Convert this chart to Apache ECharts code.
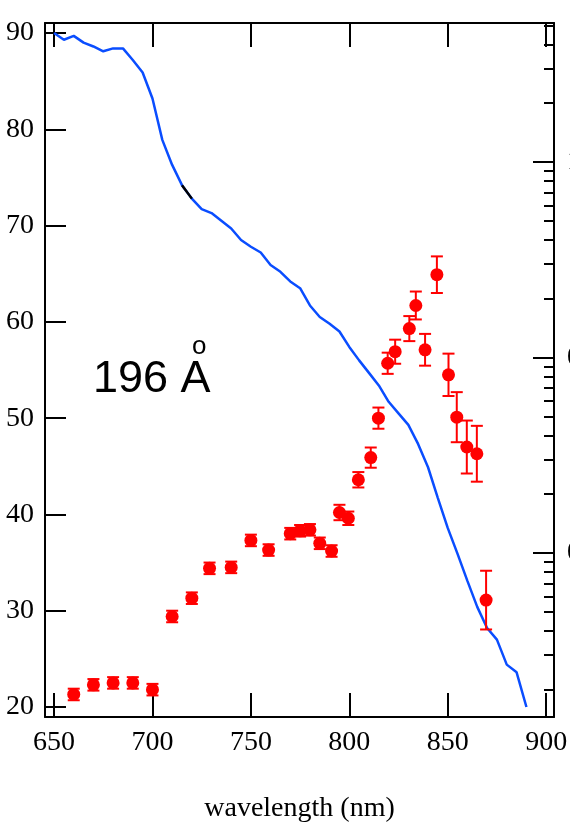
<!DOCTYPE html>
<html>
<head>
<meta charset="utf-8">
<style>
  html, body { margin: 0; padding: 0; background: #fff; }
  #chart { width: 570px; height: 831px; }
</style>
<script src="https://cdn.jsdelivr.net/npm/echarts@6/dist/echarts.min.js"></script>
</head>
<body>
<div id="chart"></div>
<script>
// blue curve (5 nm steps)
var curveX = [650, 655, 660, 665, 670, 675, 680, 685, 690, 695, 700, 705, 710, 715, 720, 725, 730, 735, 740, 745,
  750, 755, 760, 765, 770, 775, 780, 785, 790, 795, 800, 805, 810, 815, 820, 825, 830, 835, 840, 845,
  850, 855, 860, 865, 870, 875, 880, 885, 890];
var curveY = [90.0, 89.3, 89.7, 89.0, 88.6, 88.1, 88.4, 88.4, 87.2, 85.9, 83.2, 78.9, 76.3, 74.2, 72.8, 71.7, 71.3, 70.5, 69.7, 68.5,
  67.8, 67.2, 65.9, 65.2, 64.2, 63.5, 61.7, 60.5, 59.8, 59.0, 57.4, 56.0, 54.7, 53.4, 51.7, 50.5, 49.3, 47.3, 44.9, 41.7,
  38.6, 35.9, 33.1, 30.4, 28.2, 27.0, 24.4, 23.6, 20.0];
// short black piece of the curve
var blackX = [715, 720];
var blackY = [74.2, 72.8];

// red measured points with symmetric errors
var ptX = [660, 670, 680, 690, 700, 710, 720, 729, 740, 750, 759, 770, 775, 780, 785, 791,
  795, 799.5, 804.6, 810.9, 814.8, 819.5, 823.3, 830.5, 833.8, 838.5, 844.5, 850.4, 854.6, 859.7, 864.8, 869.5];
var ptY = [21.3, 22.3, 22.5, 22.5, 21.8, 29.4, 31.3, 34.4, 34.5, 37.3, 36.3, 38.0, 38.3, 38.4, 37.0, 36.2,
  40.2, 39.6, 43.6, 45.9, 50.0, 55.7, 56.9, 59.3, 61.7, 57.1, 64.9, 54.5, 50.1, 47.0, 46.3, 31.1];
var ptErr = [0.6, 0.6, 0.6, 0.6, 0.6, 0.6, 0.6, 0.6, 0.6, 0.6, 0.6, 0.6, 0.6, 0.6, 0.6, 0.6,
  0.8, 0.7, 0.8, 1.05, 1.1, 1.1, 1.25, 1.3, 1.45, 1.65, 1.9, 2.2, 2.6, 2.75, 2.9, 3.05];

// axes ticks
var xTicks = [650, 700, 750, 800, 850, 900];
var yTicks = [20, 30, 40, 50, 60, 70, 80, 90];
var rightDecades = [0.01, 0.1, 1];
var rightMinorMult = [2, 3, 4, 5, 6, 7, 8, 9];

var xMin = 645.4, xMax = 904;
var yMin = 18.96, yMax = 91.04;
var rMin = -2.839, rMax = 0.711; // log10 units

var rightMajor = rightDecades.map(function (d) { return Math.log10(d); });
var rightMinor = [];
[0.001, 0.01, 0.1, 1].forEach(function (d) {
  rightMinorMult.forEach(function (m) {
    var v = Math.log10(d * m);
    if (v > rMin && v < rMax) rightMinor.push(v);
  });
});

var serif = '"Liberation Serif", "DejaVu Serif", serif';
var chart = echarts.init(document.getElementById('chart'));

var option = {
  animation: false,
  backgroundColor: '#fff',
  grid: { left: 45, right: 16, top: 23, bottom: 114, containLabel: false, outerBoundsMode: 'none' },
  xAxis: [{
    type: 'value', position: 'bottom', min: xMin, max: xMax,
    name: 'wavelength (nm)', nameLocation: 'middle', nameGap: 78,
    nameTextStyle: { fontFamily: serif, fontSize: 28, color: '#000' },
    axisLine: { show: true, onZero: false, lineStyle: { color: '#000', width: 2 } },
    axisTick: { show: true, inside: true, length: 24, customValues: xTicks, lineStyle: { color: '#000', width: 2 } },
    axisLabel: { show: true, customValues: xTicks, margin: 12, fontFamily: serif, fontSize: 28, color: '#000' },
    splitLine: { show: false }
  }, {
    type: 'value', position: 'top', min: xMin, max: xMax,
    axisLine: { show: true, onZero: false, lineStyle: { color: '#000', width: 2 } },
    axisTick: { show: true, inside: true, length: 24, customValues: xTicks, lineStyle: { color: '#000', width: 2 } },
    axisLabel: { show: false },
    splitLine: { show: false }
  }],
  yAxis: [{
    type: 'value', position: 'left', min: yMin, max: yMax,
    axisLine: { show: true, onZero: false, lineStyle: { color: '#000', width: 2 } },
    axisTick: { show: true, inside: true, length: 21, customValues: yTicks, lineStyle: { color: '#000', width: 2 } },
    axisLabel: { show: true, customValues: yTicks, margin: 11, fontFamily: serif, fontSize: 28, color: '#000' },
    splitLine: { show: false }
  }, {
    type: 'value', position: 'right', min: rMin, max: rMax,
    axisLine: { show: true, onZero: false, lineStyle: { color: '#000', width: 2 } },
    axisTick: { show: true, inside: true, length: 10, customValues: rightMinor, lineStyle: { color: '#000', width: 2 } },
    axisLabel: { show: false },
    splitLine: { show: false }
  }, {
    type: 'value', position: 'right', min: rMin, max: rMax,
    axisLine: { show: false },
    axisTick: { show: true, inside: true, length: 21, customValues: rightMajor, lineStyle: { color: '#000', width: 2 } },
    axisLabel: {
      show: true, customValues: rightMajor, margin: 13, fontFamily: serif, fontSize: 28, color: '#000',
      formatter: function (v) { return String(+Math.pow(10, v).toPrecision(3)); }
    },
    splitLine: { show: false }
  }],
  graphic: [{
    type: 'text', left: 93, top: 357,
    style: { text: '196 A', font: '45px "Liberation Sans", Arial, sans-serif', fill: '#000' }
  }, {
    type: 'text', left: 192, top: 334,
    style: { text: 'o', font: '26px "Liberation Sans", Arial, sans-serif', fill: '#000' }
  }],
  series: [{
    type: 'line', xAxisIndex: 0, yAxisIndex: 0,
    data: curveX.map(function (x, i) { return [x, curveY[i]]; }),
    showSymbol: false, smooth: false,
    lineStyle: { color: '#0a4dff', width: 2.5 }, z: 2
  }, {
    type: 'line', xAxisIndex: 0, yAxisIndex: 0,
    data: blackX.map(function (x, i) { return [x, blackY[i]]; }),
    showSymbol: false,
    lineStyle: { color: '#000', width: 2.5 }, z: 3
  }, {
    type: 'custom', xAxisIndex: 0, yAxisIndex: 0,
    data: ptX.map(function (x, i) { return [x, ptY[i] - ptErr[i], ptY[i] + ptErr[i]]; }),
    renderItem: function (params, api) {
      var lo = api.coord([api.value(0), api.value(1)]);
      var hi = api.coord([api.value(0), api.value(2)]);
      var w = 6;
      var st = { stroke: '#ff0000', lineWidth: 2 };
      return {
        type: 'group',
        children: [
          { type: 'line', shape: { x1: lo[0], y1: lo[1], x2: hi[0], y2: hi[1] }, style: st },
          { type: 'line', shape: { x1: lo[0] - w, y1: lo[1], x2: lo[0] + w, y2: lo[1] }, style: st },
          { type: 'line', shape: { x1: hi[0] - w, y1: hi[1], x2: hi[0] + w, y2: hi[1] }, style: st }
        ]
      };
    },
    z: 4
  }, {
    type: 'scatter', xAxisIndex: 0, yAxisIndex: 0,
    data: ptX.map(function (x, i) { return [x, ptY[i]]; }),
    symbol: 'circle', symbolSize: 13,
    itemStyle: { color: '#ff0000', opacity: 1 }, z: 5
  }]
};

chart.setOption(option);
</script>
</body>
</html>
